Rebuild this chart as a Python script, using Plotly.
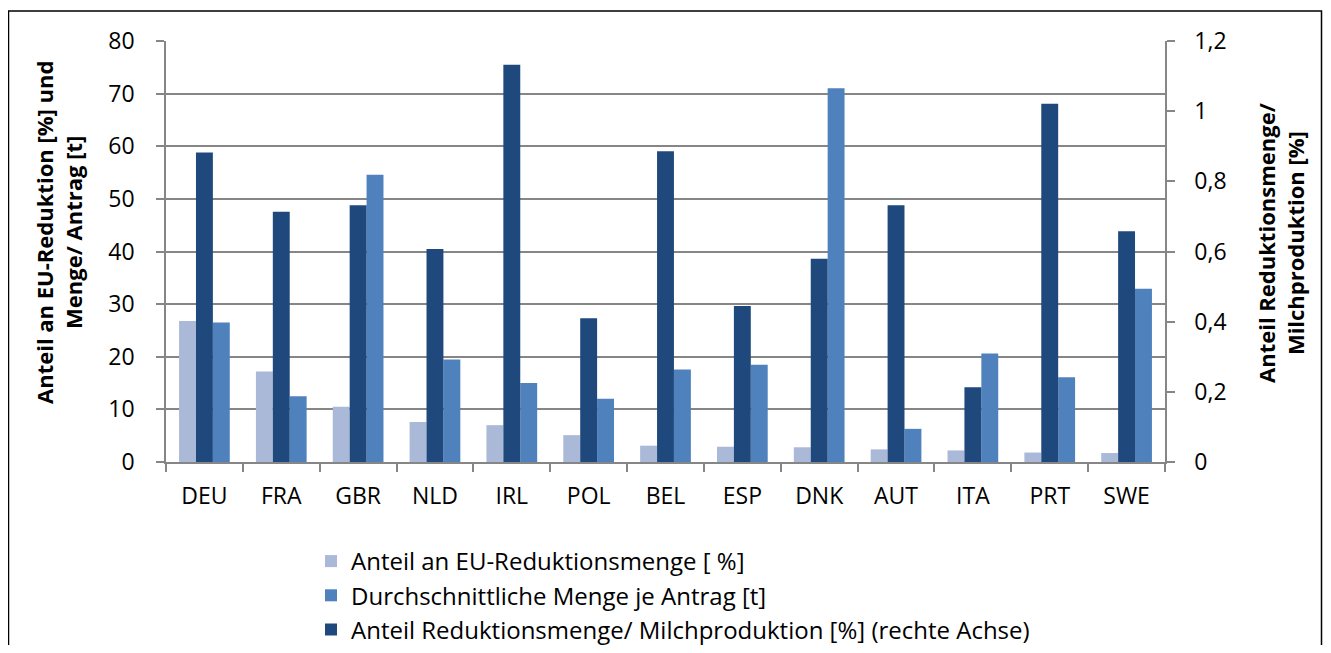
import plotly.graph_objects as go

categories = ["DEU", "FRA", "GBR", "NLD", "IRL", "POL", "BEL", "ESP", "DNK", "AUT", "ITA", "PRT", "SWE"]
anteil_eu = [26.8, 17.2, 10.5, 7.6, 7.0, 5.1, 3.1, 2.9, 2.8, 2.4, 2.2, 1.8, 1.7]
menge_antrag = [26.5, 12.5, 54.6, 19.5, 15.0, 12.0, 17.6, 18.5, 71.0, 6.3, 20.6, 16.1, 32.9]
anteil_milch = [0.882, 0.713, 0.732, 0.607, 1.132, 0.41, 0.886, 0.445, 0.579, 0.732, 0.213, 1.021, 0.658]

names = ["Anteil an EU-Reduktionsmenge [ %]",
         "Durchschnittliche Menge je Antrag [t]",
         "Anteil Reduktionsmenge/ Milchproduktion [%] (rechte Achse)"]
colors = ["#AAB9D7", "#4F81BD", "#1F497D"]

FONT = "Open Sans"
fs_tick = 23
fs_leg = 24
fs_title = 22
bw = 0.22

fig = go.Figure()
fig.add_trace(go.Bar(x=categories, y=anteil_eu, name=names[0], marker_color=colors[0],
                     width=bw, offset=-1.5 * bw, marker_line_width=0, yaxis="y"))
fig.add_trace(go.Bar(x=categories, y=menge_antrag, name=names[1], marker_color=colors[1],
                     width=bw, offset=0.5 * bw, marker_line_width=0, yaxis="y"))
fig.add_trace(go.Bar(x=categories, y=anteil_milch, name=names[2], marker_color=colors[2],
                     width=bw, offset=-0.5 * bw, marker_line_width=0, yaxis="y2"))

# the html body has an 8px margin on every side; keep the figure inside the window
OFF = 8
W, H = 1331 - 2 * OFF, 653 - 2 * OFF
L, R, T, B = 166 - OFF, 1165 - OFF, 41 - OFF, 462 - OFF
pw, ph = R - L, B - T

def px(x):
    return (x - OFF - L) / pw

def py(y):
    return (B - (y - OFF)) / ph

grid = "#868686"
fig.update_layout(
    width=W, height=H,
    margin=dict(l=L, r=W - R, t=T, b=H - B, pad=0, autoexpand=False),
    paper_bgcolor="white", plot_bgcolor="white",
    separators=",.",
    barmode="overlay",
    font=dict(family=FONT, size=fs_tick, color="black"),
    showlegend=True,
    legend=dict(x=px(311), y=py(539), xanchor="left", yanchor="top",
                font=dict(family=FONT, size=fs_leg), traceorder="normal",
                bgcolor="rgba(0,0,0,0)", tracegroupgap=0, itemwidth=30),
    xaxis=dict(type="category", showgrid=False, showline=True, linecolor=grid, linewidth=1.5,
               ticks="outside", tickson="boundaries", ticklen=8, tickcolor=grid, tickwidth=1.5,
               tickfont=dict(family=FONT, size=fs_tick), ticklabelstandoff=13,
               range=[-0.5, len(categories) - 0.5]),
    yaxis=dict(range=[0, 80], dtick=10, showgrid=True, gridcolor=grid, gridwidth=1.5,
               showline=True, linecolor=grid, linewidth=1.5, ticks="outside", ticklen=8,
               tickcolor=grid, tickwidth=1.5, tickfont=dict(family=FONT, size=fs_tick),
               ticklabelstandoff=17, zeroline=False),
    yaxis2=dict(range=[0, 1.2], dtick=0.2, overlaying="y", side="right", showgrid=False,
                showline=True, linecolor=grid, linewidth=1.5, ticks="outside", ticklen=8,
                tickcolor=grid, tickwidth=1.5, tickfont=dict(family=FONT, size=fs_tick),
                ticklabelstandoff=15, zeroline=False),
    annotations=[
        dict(text="Anteil an EU-Reduktion [%] und<br>Menge/ Antrag [t]", xref="paper", yref="paper",
             x=px(59), y=py(233), textangle=-90, showarrow=False, xanchor="center", yanchor="middle",
             font=dict(family=FONT, size=fs_title, color="black", weight="bold")),
        dict(text="Anteil Reduktionsmenge/<br>Milchproduktion [%]", xref="paper", yref="paper",
             x=px(1280), y=py(243), textangle=-90, showarrow=False, xanchor="center", yanchor="middle",
             font=dict(family=FONT, size=fs_title, color="black", weight="bold")),
    ],
    shapes=[dict(type="rect", xref="paper", yref="paper",
                 x0=px(8.5), x1=px(1321.5), y0=py(670), y1=py(11),
                 line=dict(color="black", width=1.5), fillcolor="rgba(0,0,0,0)", layer="below")],
)

fig.write_html("out.html")
